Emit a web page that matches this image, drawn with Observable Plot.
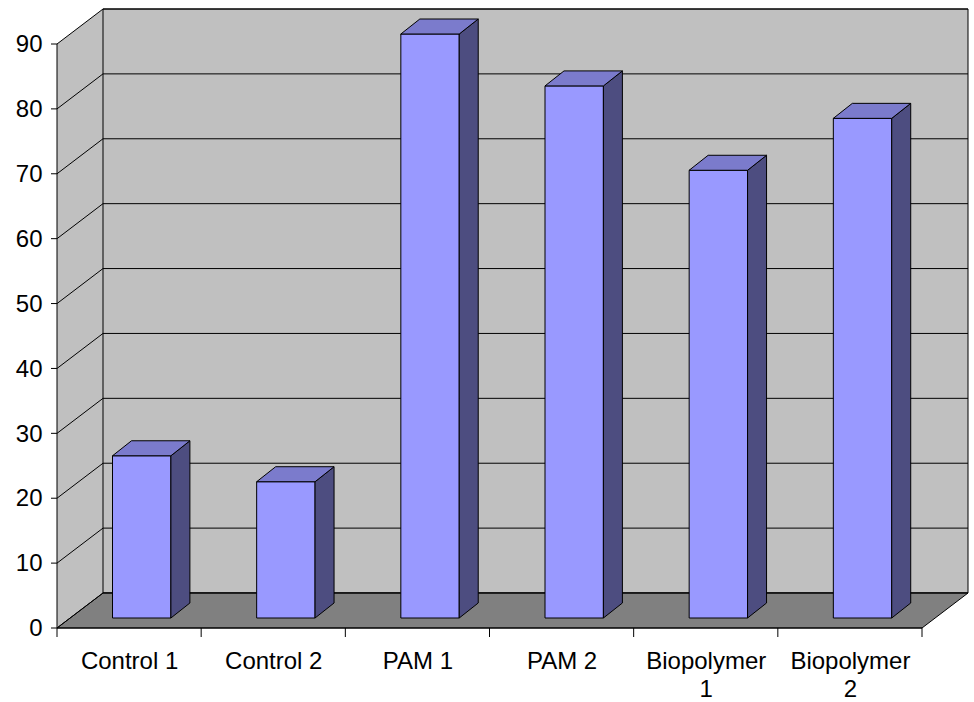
<!DOCTYPE html>
<html><head><meta charset="utf-8">
<script src="https://cdn.jsdelivr.net/npm/d3@7"></script>
<script src="https://cdn.jsdelivr.net/npm/@observablehq/plot@0.6"></script>
<style>body{margin:0;background:#fff}</style>
</head><body><div id="chart"></div>
<script>
const categories = ["Control 1", "Control 2", "PAM 1", "PAM 2", "Biopolymer\n1", "Biopolymer\n2"];
const values = [25, 21, 90, 82, 69, 77];
const yTicks = [0, 10, 20, 30, 40, 50, 60, 70, 80, 90];

const data = categories.map((c, i) => ({c, i, v: values[i]}));
// 3D offsets in pixels
const DX = 46, DY = -35;   // depth of the wall
const BX = 0, BY = -10;    // bar front offset
const WX = 19, WY = -15;   // bar depth

const scene = (index, scales, vals, dims) => {
  const sx = scales.x, sy = scales.y;
  const g = d3.create("svg:g");
  const poly = (pts, fill, stroke = "#000") => g.append("polygon").attr("points", pts.map(p => p.join(",")).join(" "))
    .attr("fill", fill).attr("stroke", stroke).attr("stroke-width", 1);
  const x0 = sx(0), x1 = sx(6), y0 = sy(0), y1 = sy(90);
  // left side wall
  poly([[x0, y0], [x0, y1], [x0 + DX, y1 + DY], [x0 + DX, y0 + DY]], "#c0c0c0", "none");
  // back wall
  poly([[x0 + DX, y0 + DY], [x0 + DX, y1 + DY], [x1 + DX, y1 + DY], [x1 + DX, y0 + DY]], "#c0c0c0");
  // floor
  poly([[x0, y0], [x0 + DX, y0 + DY], [x1 + DX, y0 + DY], [x1, y0]], "#808080");
  // grid lines and diagonals
  for (const t of yTicks) {
    g.append("line").attr("x1", x0 + DX).attr("x2", x1 + DX).attr("y1", sy(t) + DY).attr("y2", sy(t) + DY).attr("stroke", "#000");
    g.append("line").attr("x1", x0).attr("x2", x0 + DX).attr("y1", sy(t)).attr("y2", sy(t) + DY).attr("stroke", "#000");
  }
  // bars
  for (const d of data) {
    const a = sx(d.i + 0.385) + BX, b = sx(d.i + 0.79) + BX;
    const top = sy(d.v) + BY, bot = y0 + BY;
    poly([[a, bot], [a, top], [b, top], [b, bot]], "#9999ff");
    poly([[b, bot], [b, top], [b + WX, top + WY], [b + WX, bot + WY]], "#4d4d80");
    poly([[a, top], [a + WX, top + WY], [b + WX, top + WY], [b, top]], "#7b7bcc");
  }
  // front axes
  g.append("line").attr("x1", x0).attr("x2", x0).attr("y1", y0).attr("y2", y1).attr("stroke", "#000");
  g.append("line").attr("x1", x0).attr("x2", x1).attr("y1", y0).attr("y2", y0).attr("stroke", "#000");
  for (const t of yTicks)
    g.append("line").attr("x1", x0 - 6).attr("x2", x0).attr("y1", sy(t)).attr("y2", sy(t)).attr("stroke", "#000");
  for (let k = 0; k <= 6; k++)
    g.append("line").attr("x1", sx(k)).attr("x2", sx(k)).attr("y1", y0).attr("y2", y0 + 9).attr("stroke", "#000");
  return g.node();
};

const chart = Plot.plot({
  width: 974,
  height: 702,
  marginLeft: 57,
  marginRight: 52,
  marginTop: 44,
  marginBottom: 74,
  style: {fontFamily: "Liberation Sans, Arial, sans-serif", background: "#fff"},
  x: {type: "linear", domain: [0, 6], axis: null},
  y: {domain: [0, 90], axis: null},
  marks: [
    scene,
    Plot.text(yTicks, {x: 0, y: d => d, text: d => String(d), textAnchor: "end", dx: -15, fontSize: 24, fill: "#000"}),
    Plot.text(data, {x: d => d.i + 0.5, y: 0, text: "c", dy: 21, lineAnchor: "top", lineHeight: 1.15, fontSize: 24, fill: "#000"})
  ]
});
document.getElementById("chart").append(chart);
</script>
</body></html>
